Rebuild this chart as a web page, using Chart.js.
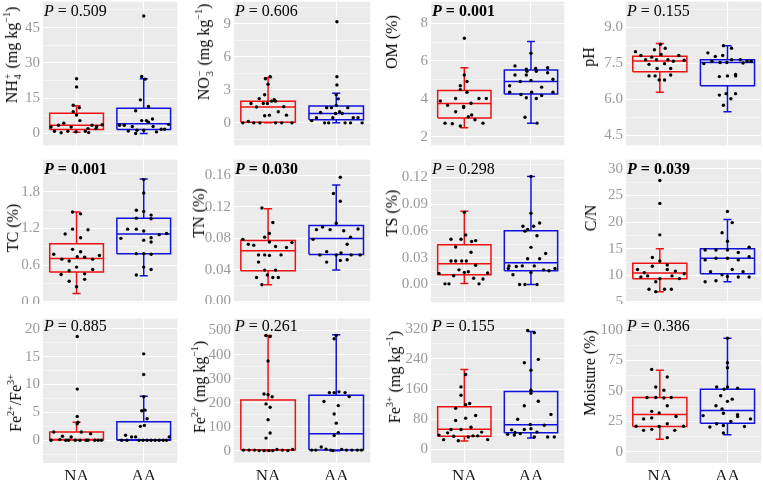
<!DOCTYPE html>
<html><head><meta charset="utf-8">
<script src="https://cdn.jsdelivr.net/npm/chart.js@4.4.1/dist/chart.umd.min.js"></script>
<style>
html,body{margin:0;padding:0;background:#fff;width:763px;height:480px;overflow:hidden;position:relative;font-family:"Liberation Serif",serif;}
.yt{position:absolute;white-space:nowrap;font-size:16px;color:#000;transform:translate(-50%,-50%) rotate(-90deg);line-height:16px;font-family:"Liberation Serif",serif;}
.ss{display:inline-flex;flex-direction:column;font-size:10px;line-height:10px;vertical-align:6px;margin-left:1px;margin-right:1px;text-align:left;}
.yt sup{font-size:10px;vertical-align:0;position:relative;top:-7px;line-height:0;}
</style></head><body>
<script>
const CATEGORIES = ['NA','AA'];

// [jitter offset, value]
const NH4_NA = [[0,23.3],[0,19.8],[-0.05,12],[0.04,11],[-0.05,9.3],[0,7.9],[0.05,5.5],[-0.19,4.4],[-0.27,3.5],[-0.38,2.8],[-0.08,2.8],[0.23,3.5],[0.30,3],[0.38,3.7],[0.17,2.1],[0.29,2.1],[-0.33,1],[-0.23,0.3],[-0.13,1],[0.13,1],[0.18,0.4],[-0.01,0.7]];
const NH4_AA = [[0,49.9],[-0.03,24.2],[0.02,23.1],[-0.05,14.3],[0.07,11.5],[-0.12,9.7],[-0.03,5.5],[0.04,5.5],[0.13,6.2],[0.07,4.8],[-0.36,3.5],[-0.29,3.5],[-0.17,3.0],[0.14,3.0],[0.37,3.9],[-0.23,1.1],[-0.1,1.4],[0,1.4],[0.26,1.8],[0.31,1.8],[-0.12,0],[0.19,0.7]];
const NH4_BOX_NA = [0.5,1.7,3.5,8.6,11.8];
const NH4_BOX_AA = [0,1.7,4.2,10.7,23.3];
const NH4_TICKS = ['0','15','30','45'];
const NH4_P = '0.509';

const NO3_NA = [[0.03,4.2],[-0.04,4.0],[0,3.5],[-0.05,2.55],[-0.13,2.2],[0.09,2.1],[-0.25,1.76],[-0.07,1.76],[-0.01,1.76],[0.05,1.97],[0.11,1.97],[-0.17,1.44],[0.23,1.47],[-0.05,0.65],[0.02,0.7],[0.15,1.0],[0.27,0.7],[-0.37,0],[-0.29,0.12],[-0.21,0],[-0.12,0],[0.11,0],[0.2,0],[0.35,0]];
const NO3_AA = [[0.01,9.18],[0.01,4.18],[0.01,3.44],[0,2.56],[0.03,2.18],[0,1.59],[-0.14,1.38],[-0.07,1.38],[0.17,1.38],[-0.01,0.85],[0.05,1.0],[0.09,0.85],[-0.23,0.94],[-0.29,0.47],[-0.05,0.47],[0.25,0.47],[0.32,0.47],[-0.36,0.2],[-0.17,0],[-0.11,0],[0.13,0],[0.21,0],[0.38,0]];
const NO3_BOX_NA = [0,0.06,1.44,1.97,4.1];
const NO3_BOX_AA = [0,0.29,0.85,1.53,2.68];
const NO3_TICKS = ['0','3','6','9'];
const NO3_P = '0.606';

const OM_NA = [[0,7.2],[0,5.26],[0.04,4.92],[-0.06,4.69],[-0.06,4.49],[0.04,4.35],[-0.36,3.89],[-0.13,4.02],[0.22,4.02],[0.33,4.02],[-0.25,3.66],[0.1,3.77],[-0.01,3.6],[-0.01,3.54],[-0.13,3.32],[0.06,3.06],[0.11,3.15],[0.16,2.9],[-0.29,2.72],[-0.18,2.69],[0.28,2.72],[-0.06,2.57]];
const OM_AA = [[0,6.41],[-0.24,5.74],[-0.07,5.57],[0.07,5.6],[0.25,5.64],[0.08,5.46],[-0.06,5.46],[-0.24,5.26],[-0.07,5.26],[0.25,5.38],[0.33,5.04],[-0.16,4.92],[0,4.97],[-0.32,4.69],[0.16,4.62],[-0.32,4.35],[-0.15,4.23],[0.01,4.35],[0.33,4.35],[0.16,4.18],[-0.07,4.06],[0.08,4.02],[-0.09,3.03],[0.09,2.72]];
const OM_BOX_NA = [2.48,2.99,3.75,4.44,5.65];
const OM_BOX_AA = [2.72,4.26,4.92,5.52,7.03];
const OM_TICKS = ['2','4','6','8'];
const OM_P = '0.001';

const PH_NA = [[0.01,8.29],[-0.36,7.98],[-0.08,8.06],[0.08,8.12],[-0.28,7.82],[-0.12,7.75],[0.02,7.86],[0.28,7.82],[-0.21,7.64],[-0.05,7.64],[0.12,7.64],[0.2,7.58],[0.36,7.62],[-0.16,7.45],[0.07,7.48],[-0.04,7.28],[0.16,7.28],[-0.16,6.97],[-0.07,6.97],[0.16,7.01],[-0.01,6.8],[0.07,6.8]];
const PH_AA = [[-0.06,8.23],[0.06,8.12],[-0.29,7.93],[-0.18,7.78],[-0.07,7.82],[-0.35,7.48],[-0.23,7.58],[-0.11,7.53],[-0.01,7.53],[0.06,7.64],[0.19,7.64],[0.23,7.51],[0.29,7.58],[0.35,7.58],[-0.12,6.94],[0,6.97],[0.12,7.03],[0.12,6.97],[-0.12,6.17],[-0.02,6.23],[0.12,6.23],[0.05,6.02],[-0.06,5.75]];
const PH_BOX_NA = [6.29,7.14,7.59,7.79,8.32];
const PH_BOX_AA = [5.48,6.56,7.53,7.64,8.23];
const PH_TICKS = ['4.5','6.0','7.5','9.0'];
const PH_P = '0.155';

const TC_NA = [[-0.06,1.47],[0.06,1.44],[-0.06,1.19],[0.17,1.18],[-0.17,1.11],[0.06,1.05],[-0.06,0.86],[0.06,0.82],[-0.34,0.78],[0.34,0.76],[0.01,0.74],[0.12,0.73],[-0.22,0.70],[-0.11,0.67],[0.24,0.70],[0,0.57],[-0.11,0.51],[0.24,0.53],[-0.23,0.45],[0.12,0.46],[0.12,0.37],[-0.11,0.34],[0,0.25]];
const TC_AA = [[0,2.0],[0,1.78],[-0.11,1.5],[0,1.48],[0.11,1.42],[-0.11,1.37],[0.11,1.36],[-0.24,1.19],[-0.11,1.19],[0,1.16],[0.11,1.05],[0.23,1.10],[0.34,1.12],[-0.34,1.04],[0,1.01],[0.11,0.98],[-0.11,0.79],[0,0.79],[0.11,0.78],[0,0.57],[0.11,0.53],[-0.11,0.44]];
const TC_BOX_NA = [0.14,0.49,0.71,0.95,1.47];
const TC_BOX_AA = [0.43,0.79,1.11,1.37,2.01];
const TC_TICKS = ['0.0','0.6','1.2','1.8'];
const TC_P = '0.001';

const TN_NA = [[-0.09,0.1186],[0.07,0.1001],[0.02,0.0862],[-0.05,0.0816],[0.02,0.0755],[-0.37,0.0788],[-0.29,0.0726],[-0.21,0.0714],[0.11,0.0697],[0.27,0.0685],[0.35,0.0747],[-0.14,0.0591],[-0.05,0.0591],[0.02,0.0583],[0.19,0.0591],[-0.14,0.05],[-0.05,0.0398],[0.11,0.0398],[-0.17,0.0304],[-0.01,0.0336],[0.07,0.0304],[0.15,0.0304],[-0.09,0.0213]];
const TN_AA = [[0.06,0.1575],[-0.04,0.137],[0.06,0.1272],[0,0.0993],[-0.29,0.0911],[-0.2,0.0944],[-0.09,0.0911],[0.11,0.0898],[0.32,0.0919],[0.21,0.0816],[-0.34,0.0788],[0.16,0.0726],[-0.14,0.0632],[-0.24,0.0591],[0,0.0591],[0.07,0.0615],[0.22,0.0591],[0.35,0.0591],[0.06,0.0521],[0.16,0.0529],[-0.14,0.05]];
const TN_BOX_NA = [0.0213,0.039,0.0644,0.0775,0.1177];
const TN_BOX_AA = [0.0398,0.0595,0.08,0.0964,0.1477];
const TN_TICKS = ['0.00','0.04','0.08','0.12','0.16'];
const TN_P = '0.030';

const TS_NA = [[0,0.081],[-0.2,0.0507],[-0.05,0.0507],[0.02,0.0554],[0.11,0.0481],[0.17,0.0492],[-0.13,0.042],[0.1,0.0361],[-0.2,0.0263],[-0.13,0.0263],[-0.04,0.0263],[0.03,0.0263],[-0.38,0.0124],[-0.16,0.0098],[-0.08,0.0164],[0,0.0135],[0.06,0.0142],[0.17,0.0215],[0.14,0.0069],[0.28,0.0062],[0.35,0.0128],[-0.29,0.0007],[-0.23,0.0007],[0.22,0.0007]];
const TS_AA = [[0,0.121],[0,0.0799],[-0.12,0.0653],[0.04,0.0653],[0.13,0.069],[-0.09,0.0598],[-0.05,0.0616],[0.09,0.0547],[0,0.0416],[-0.05,0.0288],[0.13,0.0288],[0.22,0.0347],[-0.33,0.0208],[-0.22,0.0201],[-0.13,0.0208],[0.05,0.0208],[-0.34,0.0179],[0.19,0.0164],[0.27,0.0153],[0.36,0.0179],[-0.27,0.0109],[0,0.0135],[-0.17,0],[-0.09,0],[0.09,0]];
const TS_BOX_NA = [0.001,0.0109,0.0233,0.0445,0.0821];
const TS_BOX_AA = [0,0.0153,0.0244,0.0602,0.1211];
const TS_TICKS = ['0.00','0.03','0.06','0.09','0.12'];
const TS_P = '0.298';

const CN_NA = [[0,27.8],[0,23.5],[0,17.6],[0,12.7],[-0.11,13.35],[0.11,11.95],[-0.11,11.7],[-0.33,11.1],[0.11,11.1],[0.23,10.8],[-0.23,10.5],[0.36,10.3],[-0.28,9.7],[-0.18,9.9],[0.18,9.9],[0,9.4],[0.29,9.4],[-0.06,8.8],[-0.16,7.4],[0.07,7.4],[0.17,7.4],[-0.06,6.95]];
const CN_AA = [[0,22.0],[0.07,19.9],[-0.08,18.0],[0,16.4],[-0.33,14.76],[-0.17,14.76],[0,14.76],[0.16,14.3],[0.32,15.3],[-0.33,12.9],[-0.17,13.2],[0,13.2],[0.16,12.9],[0.32,13.5],[-0.25,10.7],[0.07,11.1],[0.23,10.7],[-0.08,10.1],[0,9.8],[0.16,9.7],[0.32,9.7],[-0.33,8.8],[-0.17,9.0]];
const CN_BOX_NA = [6.95,9.39,10.43,12.26,15.0];
const CN_BOX_AA = [8.8,10.3,13.23,15.0,20.5];
const CN_TICKS = ['5','10','15','20','25','30'];
const CN_P = '0.039';

const FER_NA = [[0.01,18.6],[0.01,9.17],[0.01,4.26],[0.01,2.96],[0.02,3.25],[0.07,1.48],[0.21,1.18],[-0.21,0.71],[-0.34,1.48],[-0.08,0.59],[-0.25,0.12],[-0.38,0],[-0.16,0],[-0.02,0],[0.05,0],[0.14,0],[0.17,0],[0.27,0],[0.32,0],[0.37,0],[-0.12,0]];
const FER_AA = [[0,15.5],[0,11.8],[0,7.8],[-0.03,5.3],[0.02,5.4],[0.05,3.85],[0.01,2.66],[-0.05,2.49],[-0.27,0.9],[-0.18,0.6],[-0.12,0.6],[0.38,0.6],[-0.33,0],[-0.25,0],[-0.07,0],[-0.01,0],[0.05,0],[0.11,0],[0.17,0],[0.23,0],[0.29,0],[0.34,0]];
const FER_BOX_NA = [0,0.03,0.12,1.48,3.25];
const FER_BOX_AA = [0,0.02,0.1,3.3,7.9];
const FER_TICKS = ['0','5','10','15','20'];
const FER_P = '0.885';

const FE2_NA = [[-0.03,479],[0.03,475],[0,373],[-0.06,236],[0,233],[0.06,225],[-0.03,195],[0.03,181],[0,129],[0.03,74],[-0.03,53],[-0.36,3],[-0.28,3],[-0.2,3],[-0.13,1],[-0.06,1],[0.01,1],[0.07,1],[0.13,6],[0.21,3],[0.29,1],[0.36,6]];
const FE2_AA = [[0,479],[-0.03,466],[-0.1,242],[-0.03,242],[0.04,245],[0.13,242],[0.19,226],[-0.18,205],[0.03,188],[-0.03,153],[0,115],[-0.03,64],[0.03,75],[-0.22,16],[-0.36,3],[-0.3,3],[-0.15,7],[-0.08,3],[-0.05,1],[0.08,6],[0.15,3],[0.23,3],[0.31,3],[0.37,3]];
const FE2_BOX_NA = [0,3,5,211,479];
const FE2_BOX_AA = [0,3,71,231,482];
const FE2_TICKS = ['0','100','200','300','400','500'];
const FE2_P = '0.261';

const FE3_NA = [[0.02,199],[-0.05,166],[-0.05,144],[0.08,122],[0.02,119],[-0.13,109],[0.17,90],[0.02,83],[-0.13,77],[0.1,59],[-0.2,53],[-0.05,53],[-0.25,44],[0.26,46],[-0.38,38],[-0.16,35],[0.06,33],[0.13,36],[0.2,36],[-0.31,26],[-0.09,23],[0.35,26]];
const FE3_AA = [[-0.05,316],[0.05,310],[-0.1,230],[0.11,239],[0,210],[0,157],[0,149],[0.11,128],[-0.1,116],[-0.2,80],[0.3,93],[-0.01,66],[0.2,64],[-0.29,52],[-0.1,53],[0,55],[0.09,46],[-0.35,40],[-0.24,45],[-0.16,42],[-0.25,38],[0.05,33],[0.25,33],[0.35,33]];
const FE3_BOX_NA = [22.7,35,53.3,113.6,212];
const FE3_BOX_AA = [30.6,44.6,65.6,154,313];
const FE3_TICKS = ['0','80','160','240','320'];
const FE3_P = '0.155';

const MST_NA = [[-0.12,67.6],[0.11,61.4],[-0.06,53.2],[0.06,50.5],[-0.19,44.6],[-0.06,44.6],[0.06,44.1],[0.17,44.6],[0.11,37.8],[-0.12,33.2],[-0.01,31.9],[0.24,28.9],[-0.24,27],[-0.12,27.8],[0.11,23],[-0.35,21],[-0.01,20.8],[0.35,21],[-0.24,17.6],[-0.12,18.4],[0.22,17.6],[0.11,11.6]];
const MST_AA = [[0,93.2],[0,73],[0,68.9],[-0.16,53.2],[0,53.2],[0.15,52.2],[-0.05,51.4],[-0.1,46],[0.07,43.2],[0,41.4],[-0.17,37.8],[-0.08,35.1],[-0.06,31.6],[0.15,30.5],[-0.36,29.7],[0.15,28.9],[0.34,27],[0.05,24.9],[-0.16,23],[-0.26,20.3],[0.25,20.8],[-0.06,21.6],[-0.06,15.4]];
const MST_BOX_NA = [10.3,20.8,30.5,44.6,67];
const MST_BOX_AA = [14,23.5,33.8,51.4,93.2];
const MST_TICKS = ['0','25','50','75','100'];
const MST_P = '0.386';

const MGKG = ' (mg kg<sup>\u22121</sup>)';
const PANELS = [
 {na:NH4_NA,aa:NH4_AA,bn:NH4_BOX_NA,ba:NH4_BOX_AA,ticks:NH4_TICKS,p:NH4_P,bold:false,title:'NH<span class="ss"><span>+</span><span>4</span></span>'+MGKG,l:43,t:0,r:179,b:147,ymin:-5,ymax:56,tx:13,ty:55,pdy:10,xl:false},
 {na:NO3_NA,aa:NO3_AA,bn:NO3_BOX_NA,ba:NO3_BOX_AA,ticks:NO3_TICKS,p:NO3_P,bold:false,title:'NO<span class="ss"><span>\u2212</span><span>3</span></span>'+MGKG,l:234,t:0,r:372,b:147,ymin:-2.04,ymax:11.0,tx:205,ty:52,pdy:10,xl:false},
 {na:OM_NA,aa:OM_AA,bn:OM_BOX_NA,ba:OM_BOX_AA,ticks:OM_TICKS,p:OM_P,bold:true,title:'OM (%)',l:431,t:0,r:566,b:147,ymin:1.55,ymax:9.13,tx:392,ty:42,pdy:10,xl:false},
 {na:PH_NA,aa:PH_AA,bn:PH_BOX_NA,ba:PH_BOX_AA,ticks:PH_TICKS,p:PH_P,bold:false,title:'pH',l:626,t:0,r:763,b:147,ymin:4.08,ymax:10.06,tx:589,ty:57,pdy:10,xl:false},
 {na:TC_NA,aa:TC_AA,bn:TC_BOX_NA,ba:TC_BOX_AA,ticks:TC_TICKS,p:TC_P,bold:true,title:'TC (%)',l:43,t:158,r:179,b:304,ymin:-0.005,ymax:2.325,tx:13,ty:228,pdy:10,xl:false},
 {na:TN_NA,aa:TN_AA,bn:TN_BOX_NA,ba:TN_BOX_AA,ticks:TN_TICKS,p:TN_P,bold:true,title:'TN (%)',l:234,t:158,r:372,b:304,ymin:-0.001,ymax:0.1798,tx:199,ty:213,pdy:10,xl:false},
 {na:TS_NA,aa:TS_AA,bn:TS_BOX_NA,ba:TS_BOX_AA,ticks:TS_TICKS,p:TS_P,bold:false,title:'TS (%)',l:431,t:158,r:566,b:304,ymin:-0.020,ymax:0.1399,tx:392,ty:213,pdy:10,xl:false},
 {na:CN_NA,aa:CN_AA,bn:CN_BOX_NA,ba:CN_BOX_AA,ticks:CN_TICKS,p:CN_P,bold:true,title:'C/N',l:626,t:158,r:763,b:304,ymin:4.95,ymax:31.7,tx:591,ty:218,pdy:10,xl:false},
 {na:FER_NA,aa:FER_AA,bn:FER_BOX_NA,ba:FER_BOX_AA,ticks:FER_TICKS,p:FER_P,bold:false,title:'Fe<sup>2+</sup>/Fe<sup>3+</sup>',l:43,t:317,r:179,b:463,ymin:-4.08,ymax:21.8,tx:16,ty:403,pdy:8,xl:true},
 {na:FE2_NA,aa:FE2_AA,bn:FE2_BOX_NA,ba:FE2_BOX_AA,ticks:FE2_TICKS,p:FE2_P,bold:false,title:'Fe<sup>2+</sup>'+MGKG,l:234,t:317,r:372,b:463,ymin:-50.5,ymax:549,tx:200,ty:387,pdy:8,xl:true},
 {na:FE3_NA,aa:FE3_AA,bn:FE3_BOX_NA,ba:FE3_BOX_AA,ticks:FE3_TICKS,p:FE3_P,bold:false,title:'Fe<sup>3+</sup>'+MGKG,l:431,t:317,r:566,b:463,ymin:-36,ymax:347,tx:395,ty:377,pdy:8,xl:true},
 {na:MST_NA,aa:MST_AA,bn:MST_BOX_NA,ba:MST_BOX_AA,ticks:MST_TICKS,p:MST_P,bold:false,title:'Moisture (%)',l:626,t:317,r:763,b:463,ymin:-9.2,ymax:109.2,tx:590,ty:373,pdy:8,xl:true}
];

const RED = '#EE1111', BLUE = '#1111DD';
const FAM = '"Liberation Serif", "Times New Roman", serif';

const bgPlugin = {id:'bg', beforeDraw(chart){ const a = chart.chartArea, c = chart.ctx; c.save(); c.fillStyle = '#EBEBEB'; c.fillRect(a.left, a.top, a.right-a.left, a.bottom-a.top); c.restore(); }};
const pPlugin = {id:'plabel', afterDatasetsDraw(chart, args, o){ const a = chart.chartArea, c = chart.ctx; c.save(); c.fillStyle = '#000'; c.textBaseline = 'middle'; c.textAlign = 'left';
  let x = a.left + 1; const y = a.top + o.dy;
  c.font = (o.bold ? 'italic bold ' : 'italic ') + '16px ' + FAM; c.fillText('P', x, y); x += c.measureText('P').width;
  c.font = (o.bold ? 'bold ' : '') + '16px ' + FAM; c.fillText(' = ' + o.text, x, y); c.restore(); }};

function boxSets(s, cx, color){
  const [lo,q1,md,q3,hi] = s, hw = 0.4, cw = 0.06;
  const L = pts => ({type:'scatter', data:pts, showLine:true, borderColor:color, borderWidth:1.5, pointRadius:0, pointHoverRadius:0, fill:false, tension:0, order:2, borderJoinStyle:'miter'});
  return [
    L([{x:cx-hw,y:q1},{x:cx+hw,y:q1},{x:cx+hw,y:q3},{x:cx-hw,y:q3},{x:cx-hw,y:q1}]),
    L([{x:cx-hw,y:md},{x:cx+hw,y:md}]),
    L([{x:cx,y:q3},{x:cx,y:hi}]), L([{x:cx-cw,y:hi},{x:cx+cw,y:hi}]),
    L([{x:cx,y:q1},{x:cx,y:lo}]), L([{x:cx-cw,y:lo},{x:cx+cw,y:lo}])
  ];
}
function pts(arr, cx){ return {type:'scatter', data:arr.map(d => ({x:cx+d[0], y:d[1]})), pointRadius:1.7, pointHoverRadius:1.7, pointBackgroundColor:'#000', pointBorderWidth:0, showLine:false, order:0}; }

const PADL = 46;
PANELS.forEach(P => {
  const xh = P.xl ? 480 - P.b : 0;
  const W = P.r - P.l + PADL, H = P.b - P.t + xh;
  const cv = document.createElement('canvas');
  cv.width = W; cv.height = H;
  cv.style.cssText = 'position:absolute;left:' + (P.l - PADL) + 'px;top:' + P.t + 'px;width:' + W + 'px;height:' + H + 'px';
  document.body.appendChild(cv);
  const majors = P.ticks.map(Number);
  const step = majors[1] - majors[0];
  const tk = majors.map((v,i) => ({value:v, mj:true, lab:P.ticks[i]}));
  for (let i = -1; i < majors.length; i++) { const v = majors[0] + (i + 0.5) * step; if (v > P.ymin && v < P.ymax) tk.push({value:+v.toFixed(6), mj:false, lab:''}); }
  tk.sort((a,b) => a.value - b.value);
  new Chart(cv, {
    type:'scatter',
    data:{datasets:[pts(P.na,1), pts(P.aa,2), ...boxSets(P.bn,1,RED), ...boxSets(P.ba,2,BLUE)]},
    options:{
      responsive:false, animation:false, devicePixelRatio:1,
      layout:{padding:0},
      plugins:{legend:{display:false}, tooltip:{enabled:false}, plabel:{text:P.p, bold:P.bold, dy:P.pdy}},
      scales:{
        x:{type:'linear', min:0.5, max:2.5,
          afterBuildTicks:s => { s.ticks = [{value:1},{value:2}]; },
          afterFit:s => { s.height = xh; s.paddingLeft = 0; s.paddingRight = 0; },
          ticks:{display:P.xl, autoSkip:false, maxRotation:0, padding:3, color:'#1a1a1a', font:{family:FAM, size:17}, callback:(v,i) => CATEGORIES[i]},
          grid:{color:'#FFFFFF', lineWidth:1.1, drawTicks:false}, border:{display:false}},
        y:{type:'linear', min:P.ymin, max:P.ymax,
          afterBuildTicks:s => { s.ticks = tk.map(t => ({value:t.value, mj:t.mj, lab:t.lab})); },
          afterFit:s => { s.width = PADL; s.paddingTop = 0; s.paddingBottom = 0; },
          ticks:{autoSkip:false, padding:3, color:'#999999', font:{family:FAM, size:15}, callback:(v,i,ts) => ts[i].lab},
          grid:{color:'#FFFFFF', lineWidth:c => (c.tick && c.tick.mj) ? 1.1 : 0.5, drawTicks:false}, border:{display:false}}
      }
    },
    plugins:[bgPlugin, pPlugin]
  });
  const d = document.createElement('div');
  d.className = 'yt'; d.innerHTML = P.title;
  d.style.left = P.tx + 'px'; d.style.top = P.ty + 'px';
  document.body.appendChild(d);
});
</script>
</body></html>
